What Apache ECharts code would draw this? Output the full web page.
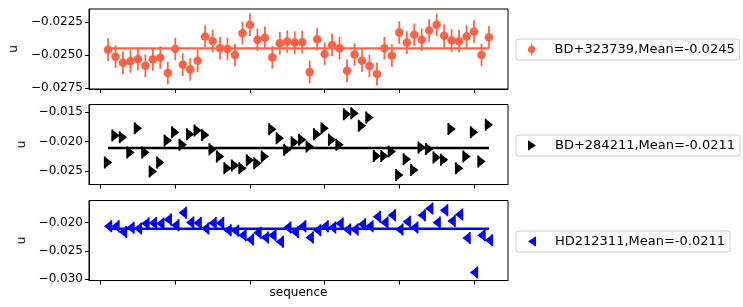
<!DOCTYPE html>
<html>
<head>
<meta charset="utf-8">
<script src="https://cdn.jsdelivr.net/npm/echarts@6/dist/echarts.min.js"></script>
<style>
html,body{margin:0;padding:0;background:#fff;}
#chart{width:743px;height:307px;}
</style>
</head>
<body>
<div id="chart"></div>
<script>
// ---- data ----
var seq = [1,2,3,4,5,6,7,8,9,10,11,12,13,14,15,16,17,18,19,20,21,22,23,24,25,26,27,28,29,30,31,32,33,34,35,36,37,38,39,40,41,42,43,44,45,46,47,48,49,50,51,52];
var xTicks = [0,10,20,30,40,50];

var name1 = 'BD+323739,Mean=-0.0245';
var mean1 = -0.0245;
var u1 = [-0.02460,-0.02513,-0.02558,-0.02548,-0.02530,-0.02581,-0.02533,-0.02520,-0.02636,-0.02455,
          -0.02573,-0.02609,-0.02543,-0.02361,-0.02394,-0.02449,-0.02455,-0.02500,-0.02336,-0.02273,
          -0.02386,-0.02371,-0.02518,-0.02412,-0.02399,-0.02407,-0.02404,-0.02629,-0.02381,-0.02492,
          -0.02424,-0.02449,-0.02619,-0.02497,-0.02543,-0.02583,-0.02644,-0.02449,-0.02505,-0.02331,
          -0.02407,-0.02348,-0.02386,-0.02316,-0.02273,-0.02356,-0.02391,-0.02396,-0.02361,-0.02323,
          -0.02500,-0.02366];
var err1 = [0.00085,0.00085,0.00085,0.00085,0.00085,0.00085,0.00085,0.00085,0.00085,0.00085,
            0.00085,0.00085,0.00085,0.00085,0.00085,0.00085,0.00085,0.00085,0.00085,0.00085,
            0.00085,0.00085,0.00085,0.00085,0.00085,0.00085,0.00085,0.00085,0.00085,0.00085,
            0.00085,0.00085,0.00085,0.00085,0.00085,0.00085,0.00085,0.00085,0.00085,0.00085,
            0.00085,0.00085,0.00085,0.00085,0.00085,0.00085,0.00085,0.00085,0.00085,0.00085,
            0.00085,0.00085];
var yTicks1 = [-0.0275,-0.0250,-0.0225];

var name2 = 'BD+284211,Mean=-0.0211';
var mean2 = -0.0211;
var u2 = [-0.02354,-0.01899,-0.01927,-0.02185,-0.01775,-0.02185,-0.02506,-0.02354,-0.01983,-0.01843,
          -0.02056,-0.01876,-0.01815,-0.01888,-0.02129,-0.02253,-0.02449,-0.02404,-0.02449,-0.02315,
          -0.02365,-0.02253,-0.01792,-0.01944,-0.02140,-0.02011,-0.01972,-0.02084,-0.01876,-0.01775,
          -0.01972,-0.02056,-0.01539,-0.01522,-0.01736,-0.01596,-0.02242,-0.02242,-0.02169,-0.02562,
          -0.02298,-0.02478,-0.02101,-0.02124,-0.02270,-0.02309,-0.01787,-0.02449,-0.02253,-0.01843,
          -0.02337,-0.01719];
var yTicks2 = [-0.025,-0.020,-0.015];

var name3 = 'HD212311,Mean=-0.0211';
var mean3 = -0.0211;
var u3 = [-0.02065,-0.02065,-0.02165,-0.02094,-0.02106,-0.02018,-0.02006,-0.02018,-0.01947,-0.02047,
          -0.01829,-0.02000,-0.02006,-0.02106,-0.02006,-0.02006,-0.02135,-0.02147,-0.02224,-0.02300,
          -0.02182,-0.02265,-0.02224,-0.02341,-0.02088,-0.02165,-0.02065,-0.02265,-0.02135,-0.02065,
          -0.02088,-0.02018,-0.02124,-0.02124,-0.02029,-0.02065,-0.01900,-0.02000,-0.01871,-0.02124,
          -0.01988,-0.02088,-0.01871,-0.01753,-0.02000,-0.01782,-0.01971,-0.01859,-0.02271,-0.02882,
          -0.02224,-0.02312];
var yTicks3 = [-0.030,-0.025,-0.020];

// ---- styles ----
var FONT = 'DejaVu Sans';
var C1 = '#ff6347', C2 = '#000000', C3 = '#0000ff';
var SYM_CIRCLE = 'circle';
var SYM_RIGHT = 'path://M0,0 L2.2,0 L2.2,1 L10,6 L2.2,11 L2.2,12 L0,12 Z';
var SYM_LEFT = 'path://M10,0 L7.8,0 L7.8,1 L0,6 L7.8,11 L7.8,12 L10,12 Z';
var ICON_CIRCLE = 'path://M4.4,0 L5.6,0 L5.6,2.2 A3.9,3.9 0 0,1 5.6,9.8 L5.6,12 L4.4,12 L4.4,9.8 A3.9,3.9 0 0,1 4.4,2.2 Z';

function pair(xs, ys){ return xs.map(function(x,i){ return [x, ys[i]]; }); }
function errData(xs, ys, es){ return xs.map(function(x,i){ return [x, ys[i], es[i]]; }); }
function fmt(d){ return function(v){ return (v<0?'\u2212':'') + Math.abs(v).toFixed(d); }; }

var grids = [
  {left:89, right:235, top:9, height:80},
  {left:89, right:235, top:104.5, height:80},
  {left:89, right:235, top:200.5, height:80}
];
grids.forEach(function(g){ g.show = true; g.borderColor = '#000'; g.borderWidth = 1; g.backgroundColor = '#fff'; });

function xAxis(i, withName){
  var a = {
    type:'value', gridIndex:i, min:-1.55, max:54.55,
    axisLine:{show:true, onZero:false, lineStyle:{color:'#000', width:1}},
    axisTick:{show:true, length:4, customValues:xTicks, lineStyle:{color:'#000', width:1}},
    axisLabel:{show:false},
    splitLine:{show:false}
  };
  if (withName){
    a.name = 'sequence'; a.nameLocation = 'middle'; a.nameGap = 6;
    a.nameTextStyle = {fontFamily:FONT, fontSize:12, color:'#000', verticalAlign:'top'};
  }
  return a;
}
function yAxis(i, min, max, ticks, d){
  return {
    type:'value', gridIndex:i, min:min, max:max,
    name:'u', nameLocation:'middle', nameGap:60,
    nameTextStyle:{fontFamily:FONT, fontSize:12, color:'#000'},
    axisLine:{show:true, onZero:false, lineStyle:{color:'#000', width:1}},
    axisTick:{show:true, length:4, customValues:ticks, lineStyle:{color:'#000', width:1}},
    axisLabel:{show:true, customValues:ticks, formatter:fmt(d), fontFamily:FONT, fontSize:12, color:'#000', margin:6},
    splitLine:{show:false}
  };
}

function errorSeries(xi, data, color){
  return {
    type:'custom', xAxisIndex:xi, yAxisIndex:xi, data:data, z:2, silent:true,
    renderItem:function(params, api){
      var x = api.value(0), y = api.value(1), e = api.value(2);
      var p1 = api.coord([x, y - e]), p2 = api.coord([x, y + e]);
      return {type:'line', shape:{x1:p1[0], y1:p1[1], x2:p2[0], y2:p2[1]},
              style:{stroke:color, lineWidth:1.8}};
    }
  };
}
function meanSeries(xi, mean, color, w){
  return {
    type:'line', xAxisIndex:xi, yAxisIndex:xi, z:3, silent:true,
    data:[[seq[0], mean],[seq[seq.length-1], mean]],
    symbol:'none', lineStyle:{color:color, width:w}
  };
}
function legend(top, name, icon, w, h){
  return {
    left:516, top:top, orient:'horizontal', selectedMode:false,
    data:[{name:name, icon:icon}],
    itemWidth:w, itemHeight:h,
    padding:[4, 5, 4, 12],
    backgroundColor:'#fff', borderColor:'#cccccc', borderWidth:1, borderRadius:3,
    textStyle:{fontFamily:FONT, fontSize:13, color:'#000', padding:[0,0,0,14]}
  };
}

var option = {
  animation:false,
  backgroundColor:'#fff',
  grid:grids,
  xAxis:[xAxis(0,false), xAxis(1,false), xAxis(2,true)],
  yAxis:[
    yAxis(0, -0.02756, -0.02154, yTicks1, 4),
    yAxis(1, -0.02724, -0.01376, yTicks2, 3),
    yAxis(2, -0.03023, -0.01611, yTicks3, 3)
  ],
  legend:[
    legend(39, name1, ICON_CIRCLE, 8, 12),
    legend(135, name2, SYM_RIGHT, 8, 12),
    legend(231, name3, SYM_LEFT, 8, 12)
  ],
  series:[
    errorSeries(0, errData(seq, u1, err1), C1),
    {type:'scatter', name:name1, xAxisIndex:0, yAxisIndex:0, z:4, data:pair(seq,u1),
     symbol:SYM_CIRCLE, symbolSize:8.5, itemStyle:{color:C1, opacity:1}},
    meanSeries(0, mean1, C1, 2.2),
    {type:'scatter', name:name2, xAxisIndex:1, yAxisIndex:1, z:4, data:pair(seq,u2),
     symbol:SYM_RIGHT, symbolSize:[10,12], symbolKeepAspect:true, itemStyle:{color:C2, opacity:1}},
    meanSeries(1, mean2, C2, 2.5),
    {type:'scatter', name:name3, xAxisIndex:2, yAxisIndex:2, z:4, data:pair(seq,u3),
     symbol:SYM_LEFT, symbolSize:[10,12], symbolKeepAspect:true, itemStyle:{color:C3, opacity:1}},
    meanSeries(2, mean3, C3, 2.5)
  ]
};

var chart = echarts.init(document.getElementById('chart'), null, {renderer:'canvas'});
chart.setOption(option);
</script>
</body>
</html>
